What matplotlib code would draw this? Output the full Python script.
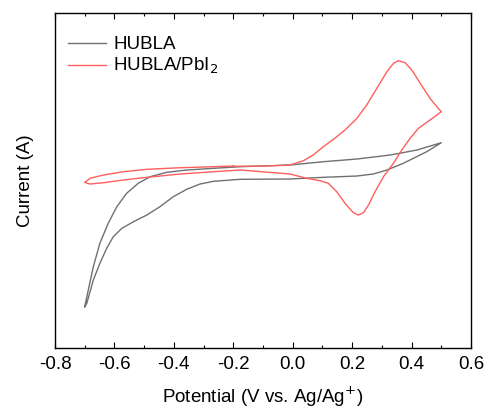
import matplotlib
matplotlib.use("Agg")
import matplotlib.pyplot as plt
from matplotlib.ticker import MultipleLocator, NullLocator, FuncFormatter

plt.rcParams["font.family"] = ["Liberation Sans", "DejaVu Sans"]

# HUBLA: one closed CV loop, starting at the negative vertex
hubla_v = [-0.700, -0.688, -0.671, -0.649, -0.621, -0.592, -0.559, -0.520,
           -0.480, -0.424, -0.357, -0.267, -0.177, -0.076, -0.009, 0.103,
           0.216, 0.328, 0.418, 0.500,
           0.451, 0.372, 0.317, 0.271, 0.216, 0.103, -0.009, -0.177,
           -0.267, -0.312, -0.357, -0.402, -0.447, -0.491, -0.536, -0.575,
           -0.604, -0.626, -0.649, -0.671, -0.693, -0.700]
hubla_i = [-1.287, -1.120, -0.887, -0.653, -0.453, -0.287, -0.153, -0.053,
           0.013, 0.057, 0.080, 0.097, 0.113, 0.123, 0.130, 0.163,
           0.190, 0.230, 0.280, 0.353,
           0.263, 0.147, 0.080, 0.040, 0.020, 0.007, -0.010, -0.013,
           -0.033, -0.060, -0.113, -0.187, -0.287, -0.370, -0.437, -0.503,
           -0.587, -0.703, -0.853, -1.020, -1.253, -1.287]

# HUBLA/PbI2: starts at -0.2 V, sweeps positive first
pbi_v = [-0.200, -0.110, -0.009, 0.036, 0.069, 0.103, 0.137, 0.176,
         0.216, 0.249, 0.283, 0.317, 0.339, 0.356, 0.378, 0.401, 0.429,
         0.462, 0.485, 0.500,
         0.462, 0.423, 0.395, 0.367, 0.339, 0.307, 0.277, 0.255, 0.238,
         0.221, 0.204, 0.176, 0.148, 0.120, 0.092, 0.047, -0.009, -0.177,
         -0.267, -0.379, -0.491, -0.570, -0.637, -0.682, -0.700, -0.682,
         -0.637, -0.570, -0.491, -0.379, -0.267, -0.200]
pbi_i = [0.118, 0.118, 0.130, 0.173, 0.230, 0.313, 0.387, 0.480,
         0.597, 0.730, 0.897, 1.063, 1.147, 1.173, 1.153, 1.080, 0.947,
         0.797, 0.713, 0.663,
         0.580, 0.497, 0.397, 0.280, 0.147, 0.020, -0.137, -0.270, -0.347,
         -0.370, -0.347, -0.253, -0.137, -0.053, -0.027, -0.003, 0.040, 0.080,
         0.063, 0.040, 0.007, -0.020, -0.047, -0.060, -0.045, -0.003,
         0.030, 0.063, 0.087, 0.103, 0.113, 0.120]

fig = plt.figure(figsize=(4.88, 4.12), dpi=100)
ax = fig.add_axes([0.1127, 0.1553, 0.8525, 0.8131])

ax.plot(hubla_v, hubla_i, color="#707070", lw=1.0, label="HUBLA")
ax.plot(pbi_v, pbi_i, color="#ff5e5e", lw=1.0, label="HUBLA/PbI$_2$")

ax.set_xlim(-0.8, 0.6)
ax.set_ylim(-1.70, 1.65)
ax.xaxis.set_major_locator(MultipleLocator(0.2))
ax.xaxis.set_minor_locator(MultipleLocator(0.1))
ax.yaxis.set_major_locator(NullLocator())
ax.tick_params(axis="x", which="both", direction="in", top=True,
               labelsize=13.5, width=0.8)
ax.tick_params(axis="x", which="major", length=4.3, pad=6)
ax.tick_params(axis="x", which="minor", length=2.2)
# plain hyphen for the minus sign, as in the original
ax.xaxis.set_major_formatter(FuncFormatter(
    lambda v, p: f"{v:.1f}".replace("-0.0", "0.0")))

ax.set_xlabel("Potential (V vs. Ag/Ag$^{+}$)", fontsize=13.5, labelpad=8)
ax.set_ylabel("Current (A)", fontsize=13.5, labelpad=15)

for s in ax.spines.values():
    s.set_linewidth(1.0)

ax.legend(loc="upper left", bbox_to_anchor=(0.0, 0.97), frameon=False,
          fontsize=13.5, handlelength=2.0, handletextpad=0.4,
          borderaxespad=0.3, labelspacing=0.15)

fig.savefig("out.png", dpi=100)
